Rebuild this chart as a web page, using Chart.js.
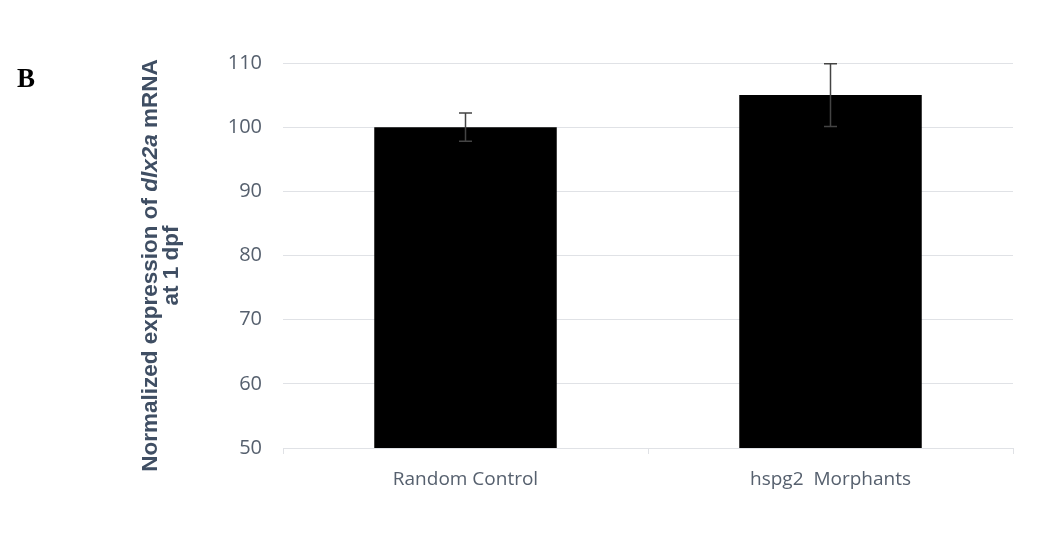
<!DOCTYPE html>
<html>
<head>
<meta charset="utf-8">
<script src="https://cdn.jsdelivr.net/npm/chart.js@4.4.1/dist/chart.umd.min.js"></script>
<style>
    body { margin: 0; background: #fff; }
    #wrap { position: relative; width: 1045px; height: 551px; }
    #panel-letter {
        position: absolute; left: 17px; top: 63px;
        font: bold 27px "Liberation Serif", "Times New Roman", serif;
        color: #000;
    }
</style>
</head>
<body>
<div id="wrap">
    <canvas id="expression-chart" width="1045" height="551"></canvas>
    <div id="panel-letter">B</div>
</div>
<script>
// dlx2a expression at 1 dpf, normalized to the random control
const groups = ['Random Control', 'hspg2  Morphants'];
const expression = [100, 105];
const stdError = [2.2, 4.9];
const yTicks = [50, 60, 70, 80, 90, 100, 110];

const tickColor = '#56606e';
const titleColor = '#3f4e63';
const gridColor = '#e0e2e6';

// y axis title, drawn by hand so "dlx2a" can be italic
const titleLines = [
    [['Normalized expression of ', false], ['dlx2a', true], [' mRNA', false]],
    [['at 1 dpf', false]]
];

const yTitlePlugin = {
    id: 'yTitle',
    afterDraw(chart) {
        const ctx = chart.ctx;
        const area = chart.chartArea;
        const midY = (area.top + area.bottom) / 2 + 10;
        const xs = [151, 172];
        ctx.save();
        ctx.fillStyle = titleColor;
        ctx.textBaseline = 'middle';
        ctx.textAlign = 'left';
        titleLines.forEach((parts, i) => {
            const fonts = parts.map(p => (p[1] ? 'italic ' : '') + 'bold 22.5px "Liberation Sans", Arial, sans-serif');
            let total = 0;
            parts.forEach((p, j) => { ctx.font = fonts[j]; total += ctx.measureText(p[0]).width; });
            ctx.save();
            ctx.translate(xs[i], midY);
            ctx.rotate(-Math.PI / 2);
            let x = -total / 2;
            parts.forEach((p, j) => {
                ctx.font = fonts[j];
                ctx.fillText(p[0], x, 0);
                x += ctx.measureText(p[0]).width;
            });
            ctx.restore();
        });
        ctx.restore();
    }
};

const errorBarPlugin = {
    id: 'errorBars',
    afterDatasetsDraw(chart) {
        const ctx = chart.ctx;
        const yScale = chart.scales.y;
        const meta = chart.getDatasetMeta(0);
        ctx.save();
        ctx.strokeStyle = '#444';
        ctx.lineWidth = 1.5;
        meta.data.forEach((bar, i) => {
            const top = yScale.getPixelForValue(expression[i] + stdError[i]);
            const bottom = yScale.getPixelForValue(expression[i] - stdError[i]);
            const x = bar.x;
            ctx.beginPath();
            ctx.moveTo(x, top);
            ctx.lineTo(x, bottom);
            ctx.moveTo(x - 6.5, top);
            ctx.lineTo(x + 6.5, top);
            ctx.moveTo(x - 6.5, bottom);
            ctx.lineTo(x + 6.5, bottom);
            ctx.stroke();
        });
        ctx.restore();
    }
};

new Chart(document.querySelector('#expression-chart').getContext('2d'), {
    type: 'bar',
    data: {
        labels: groups,
        datasets: [{
            data: expression,
            backgroundColor: '#000',
            borderWidth: 0,
            categoryPercentage: 1,
            barPercentage: 0.5
        }]
    },
    options: {
        responsive: false,
        animation: false,
        layout: { padding: { top: 63, right: 32, bottom: 0, left: 0 } },
        plugins: {
            legend: { display: false },
            tooltip: { enabled: false }
        },
        scales: {
            x: {
                offset: true,
                grid: { offset: true, drawOnChartArea: false, drawTicks: true, tickLength: 6, color: gridColor },
                border: { display: true, color: gridColor },
                ticks: { color: tickColor, padding: 14, font: { family: '"Open Sans", sans-serif', size: 19 } },
                afterFit: scale => { scale.height = 103; }
            },
            y: {
                min: 50,
                max: 110,
                afterBuildTicks: scale => { scale.ticks = yTicks.map(v => ({ value: v })); },
                grid: { color: gridColor, drawTicks: false },
                border: { display: false },
                ticks: { color: tickColor, padding: 21, font: { family: '"Open Sans", sans-serif', size: 20 } },
                afterFit: scale => { scale.width = 283; }
            }
        }
    },
    plugins: [errorBarPlugin, yTitlePlugin]
});
</script>
</body>
</html>
